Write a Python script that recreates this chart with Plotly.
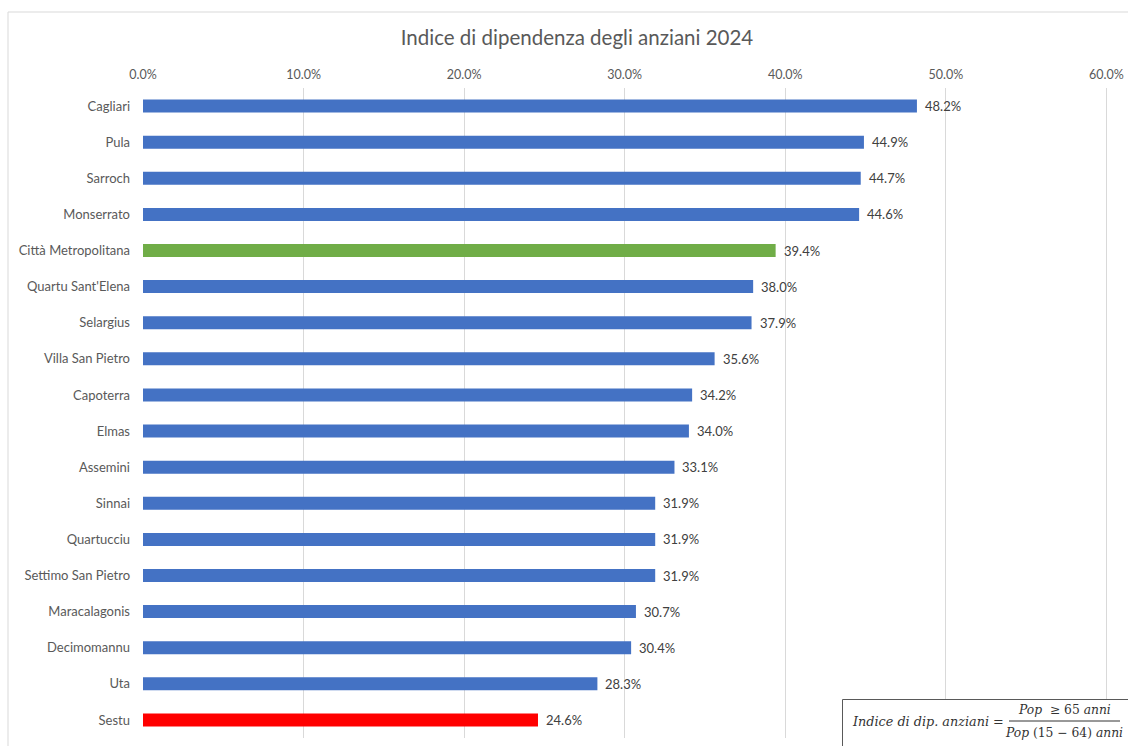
import plotly.graph_objects as go

# Old-age dependency index by municipality, 2024
comuni = [
    "Cagliari", "Pula", "Sarroch", "Monserrato", "Città Metropolitana",
    "Quartu Sant'Elena", "Selargius", "Villa San Pietro", "Capoterra", "Elmas",
    "Assemini", "Sinnai", "Quartucciu", "Settimo San Pietro", "Maracalagonis",
    "Decimomannu", "Uta", "Sestu",
]
indice = [
    48.2, 44.9, 44.7, 44.6, 39.4,
    38.0, 37.9, 35.6, 34.2, 34.0,
    33.1, 31.9, 31.9, 31.9, 30.7,
    30.4, 28.3, 24.6,
]
x_ticks = [0, 10, 20, 30, 40, 50, 60]

BLUE = "#4472C4"
GREEN = "#70AD47"
RED = "#FF0000"

def bar_color(name):
    if name == "Città Metropolitana":
        return GREEN
    if name == "Sestu":
        return RED
    return BLUE

FONT = "Lato, Open Sans, sans-serif"

fig = go.Figure(
    go.Bar(
        x=[v / 100 for v in indice],
        y=comuni,
        orientation="h",
        width=0.36,
        marker=dict(color=[bar_color(c) for c in comuni], line=dict(width=0)),
        hoverinfo="skip",
    )
)

# Value labels just right of each bar end
for name, v in zip(comuni, indice):
    fig.add_annotation(
        x=v / 100, y=name, xref="x", yref="y",
        text=f"{v:.1f}%", showarrow=False,
        xanchor="left", yanchor="middle", xshift=6,
        font=dict(family=FONT, size=13, color="#404040"),
    )

W, H = 1128, 746
ML, MR, MT, MB = 143, 20, 88, 8
pw, ph = W - ML - MR, H - MT - MB

def px_x(p):
    return (p - ML) / pw

def px_y(p):
    return 1 - (p - MT) / ph

fig.update_layout(
    width=W,
    height=H,
    margin=dict(l=ML, r=MR, t=MT, b=MB, autoexpand=False),
    paper_bgcolor="white",
    plot_bgcolor="white",
    showlegend=False,
    font=dict(family=FONT, color="#595959"),
    title=dict(
        text="Indice di dipendenza degli anziani 2024",
        x=577 / W,
        xref="container",
        xanchor="center",
        y=1 - 38 / H,
        yref="container",
        yanchor="middle",
        font=dict(family=FONT, size=20.5, color="#595959"),
    ),
    xaxis=dict(
        side="top",
        range=[0, 0.601],
        tickvals=[t / 100 for t in x_ticks],
        ticktext=[f"{t:.1f}%" for t in x_ticks],
        showgrid=True,
        gridcolor="#d9d9d9",
        gridwidth=1,
        zeroline=False,
        showline=False,
        ticks="",
        tickfont=dict(family=FONT, size=12.5, color="#595959"),
        ticklabelstandoff=6,
        automargin=False,
        fixedrange=True,
    ),
    yaxis=dict(
        autorange="reversed",
        showgrid=False,
        zeroline=False,
        showline=False,
        ticks="",
        tickfont=dict(family=FONT, size=13, color="#595959"),
        ticklabelstandoff=12,
        automargin=False,
        fixedrange=True,
    ),
    bargap=0.64,
)

# Outer chart frame (top and left edges visible)
fig.add_shape(type="line", xref="paper", yref="paper",
              x0=px_x(8), x1=px_x(W + 5), y0=px_y(12), y1=px_y(12),
              line=dict(color="#d9d9d9", width=1))
fig.add_shape(type="line", xref="paper", yref="paper",
              x0=px_x(8), x1=px_x(8), y0=px_y(12), y1=px_y(H + 5),
              line=dict(color="#d9d9d9", width=1))

# Formula box
fig.add_shape(type="rect", xref="paper", yref="paper",
              x0=px_x(842.5), x1=px_x(W + 5), y0=px_y(699.5), y1=px_y(H + 5),
              line=dict(color="#595959", width=1), fillcolor="white")

SERIF = "DejaVu Serif, Liberation Serif, serif"
fcol = "#333333"
fig.add_annotation(xref="paper", yref="paper", x=px_x(1006), y=px_y(721),
                   xanchor="right", yanchor="middle", showarrow=False,
                   text="<i>Indice di dip. anziani</i> =",
                   font=dict(family=SERIF, size=12.8, color=fcol))
fig.add_annotation(xref="paper", yref="paper", x=px_x(1064), y=px_y(710),
                   xanchor="center", yanchor="middle", showarrow=False,
                   text="<i>Pop</i>  ≥ 65 <i>anni</i>",
                   font=dict(family=SERIF, size=12.3, color=fcol))
fig.add_annotation(xref="paper", yref="paper", x=px_x(1064), y=px_y(733),
                   xanchor="center", yanchor="middle", showarrow=False,
                   text="<i>Pop</i> (15 − 64) <i>anni</i>",
                   font=dict(family=SERIF, size=12.3, color=fcol))
fig.add_shape(type="line", xref="paper", yref="paper",
              x0=px_x(1009), x1=px_x(1120), y0=px_y(721), y1=px_y(721),
              line=dict(color=fcol, width=1))

fig.write_html("out.html")
